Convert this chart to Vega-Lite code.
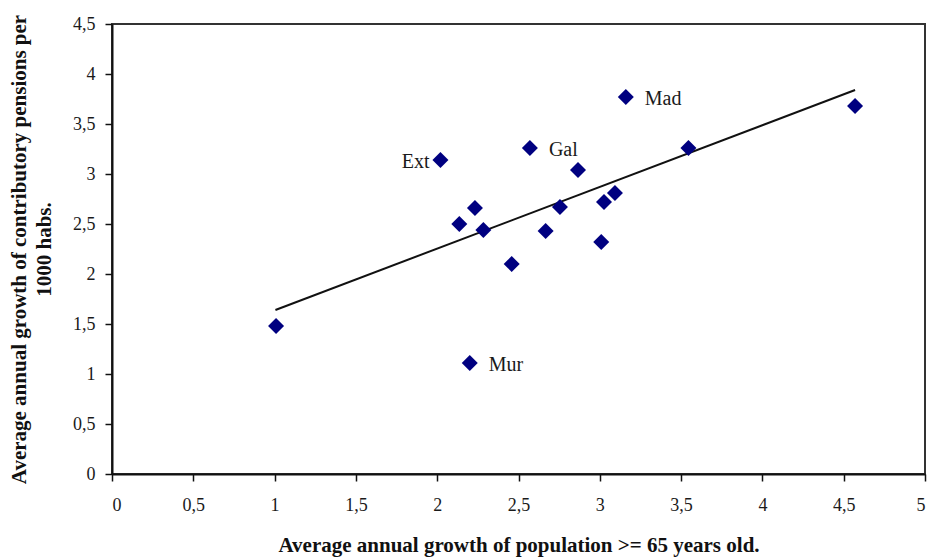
{
  "$schema": "https://vega.github.io/schema/vega-lite/v6.json",
  "width": 813,
  "height": 450,
  "autosize": {"type": "none"},
  "padding": {"left": 112, "top": 24, "right": 6, "bottom": 84},
  "background": "white",
  "config": {
    "view": {"stroke": "#333", "strokeWidth": 2},
    "font": "Liberation Serif",
    "axis": {
      "grid": false,
      "domainColor": "#111",
      "domainWidth": 2,
      "tickColor": "#111",
      "tickWidth": 1.5,
      "tickSize": 7,
      "labelFont": "Liberation Serif",
      "labelFontSize": 18,
      "labelColor": "#1a1a1a",
      "titleFont": "Liberation Serif",
      "titleFontSize": 21,
      "titleFontWeight": "bold",
      "titleColor": "#111"
    }
  },
  "datasets": {
    "pts": [
      {"x": 1.009, "y": 1.48, "label": ""},
      {"x": 2.20, "y": 1.11, "label": "Mur"},
      {"x": 2.02, "y": 3.14, "label": "Ext"},
      {"x": 2.136, "y": 2.50, "label": ""},
      {"x": 2.232, "y": 2.66, "label": ""},
      {"x": 2.284, "y": 2.44, "label": ""},
      {"x": 2.458, "y": 2.10, "label": ""},
      {"x": 2.57, "y": 3.26, "label": "Gal"},
      {"x": 2.667, "y": 2.43, "label": ""},
      {"x": 2.755, "y": 2.67, "label": ""},
      {"x": 2.866, "y": 3.04, "label": ""},
      {"x": 3.009, "y": 2.32, "label": ""},
      {"x": 3.026, "y": 2.72, "label": ""},
      {"x": 3.093, "y": 2.81, "label": ""},
      {"x": 3.16, "y": 3.77, "label": "Mad"},
      {"x": 3.545, "y": 3.26, "label": ""},
      {"x": 4.57, "y": 3.68, "label": ""}
    ],
    "trend": [
      {"x": 1.005, "y": 1.64},
      {"x": 4.57, "y": 3.84}
    ]
  },
  "layer": [
    {
      "data": {"name": "trend"},
      "mark": {"type": "line", "color": "#111", "strokeWidth": 2},
      "encoding": {
        "x": {"field": "x", "type": "quantitative"},
        "y": {"field": "y", "type": "quantitative"}
      }
    },
    {
      "data": {"name": "pts"},
      "mark": {"type": "point", "shape": "diamond", "filled": true, "color": "#000080", "size": 256, "opacity": 1},
      "encoding": {
        "x": {
          "field": "x", "type": "quantitative",
          "scale": {"domain": [0, 5], "nice": false, "zero": true},
          "axis": {
            "values": [0, 0.5, 1, 1.5, 2, 2.5, 3, 3.5, 4, 4.5, 5],
            "labelExpr": "replace(toString(datum.value), '.', ',')",
            "labelPadding": 15,
            "title": "Average annual growth of population >= 65 years old.",
            "titlePadding": 20
          }
        },
        "y": {
          "field": "y", "type": "quantitative",
          "scale": {"domain": [0, 4.5], "nice": false},
          "axis": {
            "values": [0, 0.5, 1, 1.5, 2, 2.5, 3, 3.5, 4, 4.5],
            "labelExpr": "replace(toString(datum.value), '.', ',')",
            "labelPadding": 10,
            "title": ["Average annual growth of contributory pensions per", "1000 habs."],
            "titleLineHeight": 25,
            "titlePadding": 18
          }
        }
      }
    },
    {
      "data": {"name": "pts"},
      "transform": [{"filter": "datum.label == 'Mad' || datum.label == 'Gal' || datum.label == 'Mur'"}],
      "mark": {"type": "text", "align": "left", "baseline": "middle", "dx": 19, "dy": 2, "fontSize": 20, "color": "#1a1a1a", "font": "Liberation Serif"},
      "encoding": {
        "x": {"field": "x", "type": "quantitative"},
        "y": {"field": "y", "type": "quantitative"},
        "text": {"field": "label"}
      }
    },
    {
      "data": {"name": "pts"},
      "transform": [{"filter": "datum.label == 'Ext'"}],
      "mark": {"type": "text", "align": "right", "baseline": "middle", "dx": -11, "dy": 2, "fontSize": 20, "color": "#1a1a1a", "font": "Liberation Serif"},
      "encoding": {
        "x": {"field": "x", "type": "quantitative"},
        "y": {"field": "y", "type": "quantitative"},
        "text": {"field": "label"}
      }
    }
  ]
}
